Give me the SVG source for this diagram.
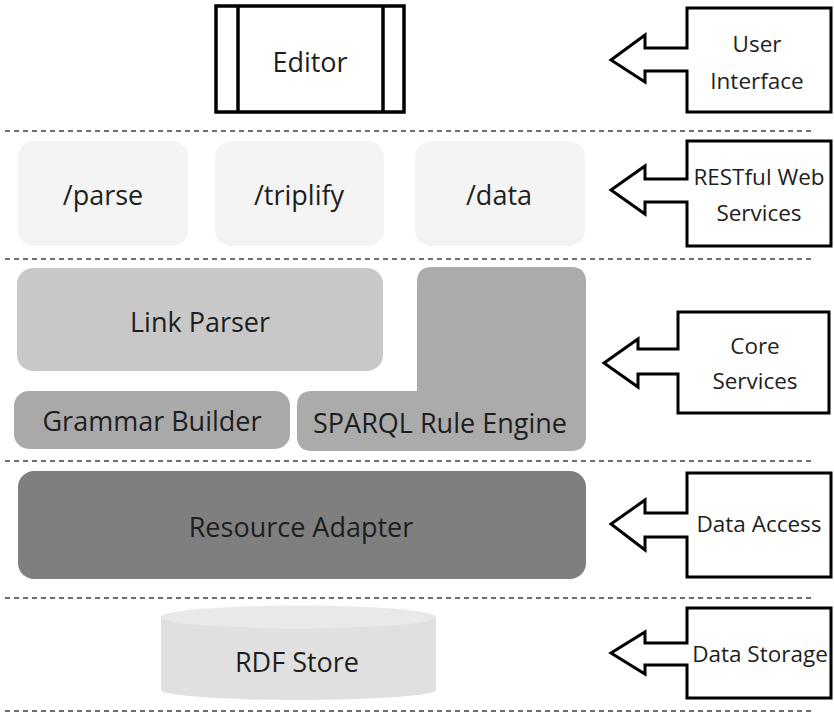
<svg xmlns="http://www.w3.org/2000/svg" width="834" height="717" viewBox="0 0 834 717">
<style>
text{font-family:"Open Sans","Noto Sans","DejaVu Sans",sans-serif;fill:#1e1e1e;text-anchor:middle}
.big{font-size:27px}
.lbl{font-size:22.5px}
.dash{stroke:#6e6e6e;stroke-width:2;stroke-dasharray:5 4;fill:none}
.call{fill:#fff;stroke:#000;stroke-width:3;stroke-linejoin:miter}
</style>
<g id="separators">
<line class="dash" x1="5" y1="131" x2="812" y2="131"/>
<line class="dash" x1="5" y1="259" x2="812" y2="259"/>
<line class="dash" x1="5" y1="461" x2="812" y2="461"/>
<line class="dash" x1="5" y1="598" x2="812" y2="598"/>
<line class="dash" x1="5" y1="711" x2="812" y2="711"/>
</g>
<g id="editor">
<rect x="216" y="6" width="188" height="106" fill="#fff" stroke="#000" stroke-width="3.5"/>
<line x1="238" y1="6" x2="238" y2="112" stroke="#000" stroke-width="3.5"/>
<line x1="383" y1="6" x2="383" y2="112" stroke="#000" stroke-width="3.5"/>
<text class="big" x="310" y="72">Editor</text>
</g>
<g id="parse">
<rect x="18" y="141" width="170" height="105" rx="16" fill="#f4f4f4"/>
<text class="big" x="103" y="205">/parse</text>
</g>
<g id="triplify">
<rect x="215" y="141" width="169" height="105" rx="16" fill="#f4f4f4"/>
<text class="big" x="299" y="205">/triplify</text>
</g>
<g id="data">
<rect x="415" y="141" width="170" height="105" rx="16" fill="#f4f4f4"/>
<text class="big" x="499" y="205">/data</text>
</g>
<g id="link-parser">
<rect x="17" y="268" width="366" height="103" rx="16" fill="#c8c8c8"/>
<text class="big" x="200" y="332">Link Parser</text>
</g>
<g id="grammar-builder">
<rect x="14" y="391" width="276" height="58" rx="15" fill="#a9a9a9"/>
<text class="big" x="152" y="431">Grammar Builder</text>
</g>
<g id="sparql">
<path d="M432,267 H571 Q586,267 586,282 V436 Q586,451 571,451 H312 Q297,451 297,436 V406 Q297,391 312,391 H417 V282 Q417,267 432,267 Z" fill="#ababab"/>
<text class="big" x="440" y="433">SPARQL Rule Engine</text>
</g>
<g id="resource-adapter">
<rect x="18" y="471" width="568" height="108" rx="16" fill="#7f7f7f"/>
<text class="big" x="301" y="537">Resource Adapter</text>
</g>
<g id="rdf-store">
<path d="M161,617 V690 A137.5,10 0 0 0 436,690 V617 Z" fill="#e0e0e0"/>
<ellipse cx="298.5" cy="617" rx="137.5" ry="11.5" fill="#e9e9e9"/>
<text class="big" x="297" y="672">RDF Store</text>
</g>
<g id="connectors">
<g id="user-interface">
<path class="call" d="M687,8 H831 V112 H687 V71 H645 V82 L611,60 L645,35 V48 H687 Z"/>
<text class="lbl" x="757" y="52">User</text>
<text class="lbl" x="757" y="89">Interface</text>
</g>
<g id="restful">
<path class="call" d="M687,141 H831 V246 H687 V202 H645 V214 L611,190 L645,166 V179 H687 Z"/>
<text class="lbl" x="759" y="185">RESTful Web</text>
<text class="lbl" x="759" y="221">Services</text>
</g>
<g id="core-services">
<path class="call" d="M678,312 H829 V413 H678 V374 H638 V387 L604,363 L638,339 V349 H678 Z"/>
<text class="lbl" x="755" y="354">Core</text>
<text class="lbl" x="755" y="389">Services</text>
</g>
<g id="data-access">
<path class="call" d="M687,473 H831 V577 H687 V537 H645 V550 L611,524 L645,500 V513 H687 Z"/>
<text class="lbl" x="759" y="532">Data Access</text>
</g>
<g id="data-storage">
<path class="call" d="M687,608 H831 V698 H687 V665 H645 V674 L611,653 L645,632 V643 H687 Z"/>
<text class="lbl" x="760" y="662">Data Storage</text>
</g>
</g>
</svg>
